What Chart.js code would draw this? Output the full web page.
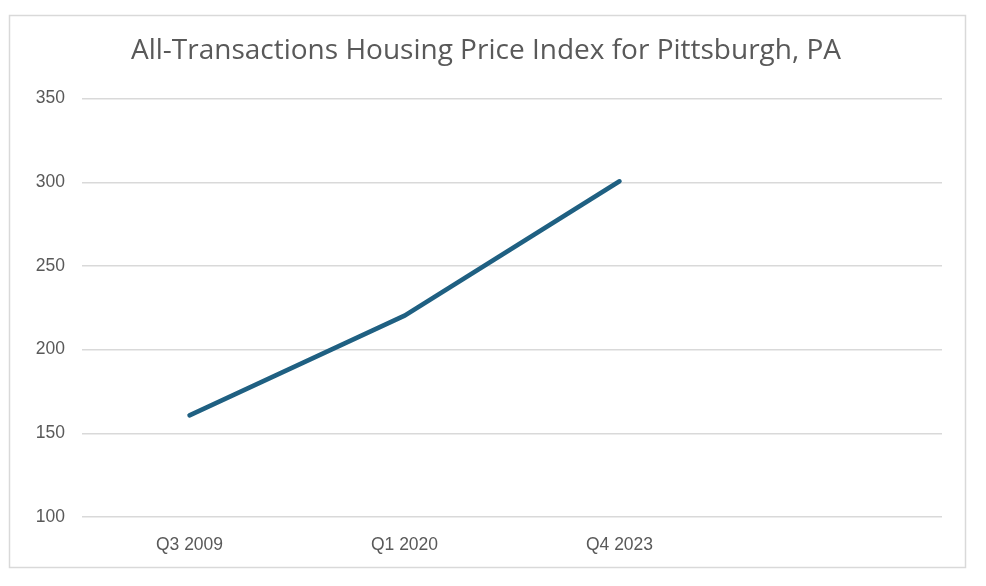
<!DOCTYPE html>
<html>
<head>
<meta charset="utf-8">
<script src="https://cdn.jsdelivr.net/npm/chart.js@4"></script>
<style>
  html, body { margin: 0; padding: 0; background: #fff; }
  #wrap { position: relative; width: 986px; height: 586px; }
</style>
</head>
<body>
<div id="wrap"><canvas id="lineChart"></canvas></div>
<script>
// data
const quarters = ['Q3 2009', 'Q1 2020', 'Q4 2023', ''];
const indexValues = [160.7, 220.3, 300.6, null];
const yTicks = [100, 150, 200, 250, 300, 350];

const frameBox = {
  id: 'frameBox',
  beforeDraw(chart) {
    const ctx = chart.ctx;
    ctx.save();
    ctx.fillStyle = '#ffffff';
    ctx.fillRect(0, 0, chart.width, chart.height);
    ctx.strokeStyle = '#d9d9d9';
    ctx.lineWidth = 1.5;
    ctx.strokeRect(9.5, 15.5, 956, 552);
    ctx.restore();
  }
};

const tickFont = { family: "'Liberation Sans', sans-serif", size: 17.5 };

const ctx = document.getElementById('lineChart').getContext('2d');
new Chart(ctx, {
  type: 'line',
  data: {
    labels: quarters,
    datasets: [{
      label: 'Index',
      data: indexValues,
      borderColor: '#1f6082',
      borderWidth: 4.5,
      pointRadius: 0,
      tension: 0,
      borderCapStyle: 'round',
      fill: false
    }]
  },
  options: {
    responsive: true,
    maintainAspectRatio: false,
    animation: false,
    layout: { padding: { left: 30, right: 44, top: 0, bottom: 29 } },
    plugins: {
      legend: { display: false },
      tooltip: { enabled: false },
      title: {
        display: true,
        text: 'All-Transactions Housing Price Index for Pittsburgh, PA',
        color: '#595959',
        font: { family: "'Open Sans', sans-serif", size: 28, weight: 'normal' },
        padding: { top: 34, bottom: 31 }
      }
    },
    scales: {
      x: {
        offset: true,
        grid: { display: false },
        border: { display: false },
        ticks: {
          color: '#595959',
          padding: 10,
          maxRotation: 0,
          font: tickFont
        },
        afterFit(scale) { scale.height = 40; }
      },
      y: {
        min: yTicks[0],
        max: yTicks[yTicks.length - 1],
        afterBuildTicks(scale) { scale.ticks = yTicks.map(v => ({ value: v })); },
        grid: { color: '#d9d9d9', lineWidth: 1.5, drawTicks: false },
        border: { display: false },
        ticks: {
          color: '#595959',
          padding: 17,
          font: tickFont
        },
        afterFit(scale) { scale.width = 52; }
      }
    }
  },
  plugins: [frameBox]
});
</script>
</body>
</html>
